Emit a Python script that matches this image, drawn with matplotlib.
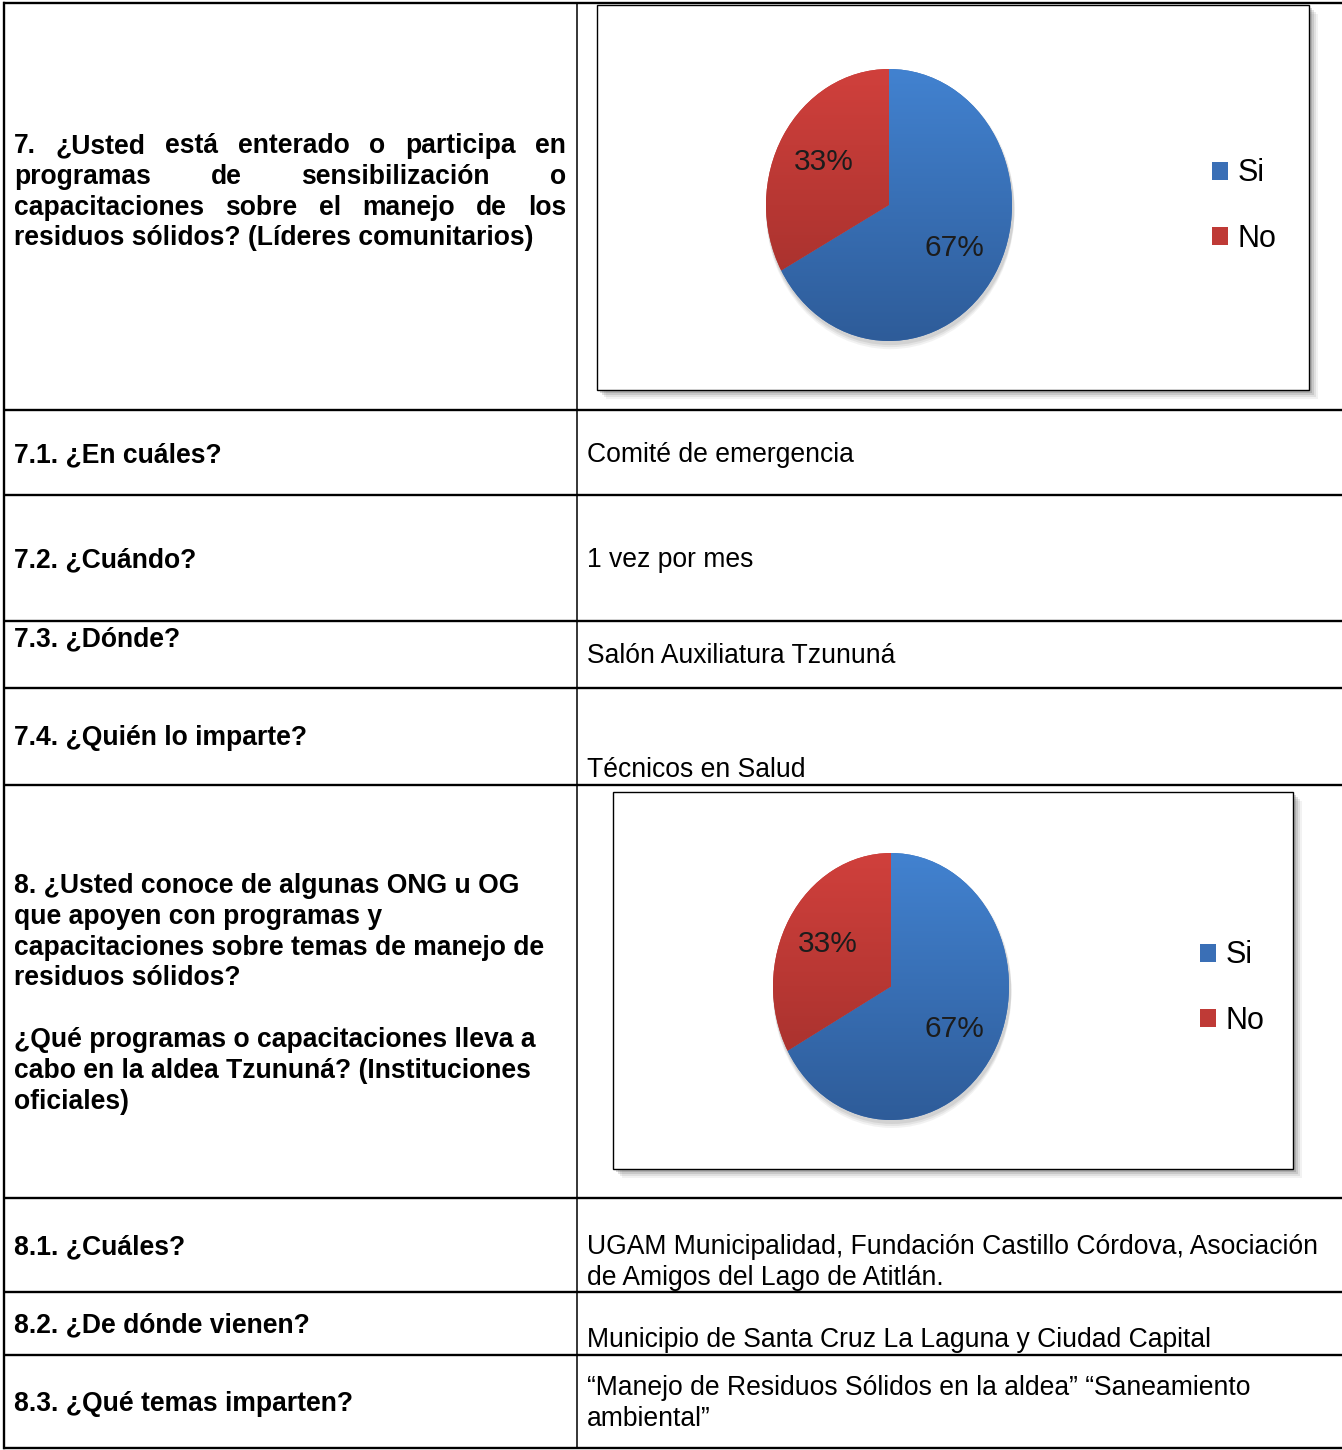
import matplotlib.pyplot as plt
import numpy as np
from matplotlib.colors import to_rgb
from matplotlib.patches import Rectangle, Ellipse

W, H = 1342, 1450

# pie data
pie_labels = ["Si", "No"]
pie7_values = [67, 33]
pie8_values = [67, 33]

# table text
q7_lines = [
    "7. ¿Usted está enterado o participa en",
    "programas de sensibilización o",
    "capacitaciones sobre el manejo de los",
    "residuos sólidos? (Líderes comunitarios)",
]
q8_lines = [
    "8. ¿Usted conoce de algunas ONG u OG",
    "que apoyen con programas y",
    "capacitaciones sobre temas de manejo de",
    "residuos sólidos?",
    "",
    "¿Qué programas o capacitaciones lleva a",
    "cabo en la aldea Tzununá? (Instituciones",
    "oficiales)",
]
sub_questions = [
    "7.1. ¿En cuáles?",
    "7.2. ¿Cuándo?",
    "7.3. ¿Dónde?",
    "7.4. ¿Quién lo imparte?",
    "8.1. ¿Cuáles?",
    "8.2. ¿De dónde vienen?",
    "8.3. ¿Qué temas imparten?",
]
sub_answers = [
    ["Comité de emergencia"],
    ["1 vez por mes"],
    ["Salón Auxiliatura Tzununá"],
    ["Técnicos en Salud"],
    ["UGAM Municipalidad, Fundación Castillo Córdova, Asociación",
     "de Amigos del Lago de Atitlán."],
    ["Municipio de Santa Cruz La Laguna y Ciudad Capital"],
    ["“Manejo de Residuos Sólidos en la aldea” “Saneamiento",
     "ambiental”"],
]

# layout (pixels)
row_edges = [3, 410, 495, 621, 688, 785, 1198, 1292, 1355, 1448]
col_x = [4, 577]
left_x, right_x = 14, 587
pitch = 30.8
sub_q_y = [455, 560, 639, 738, 1247, 1325, 1404]
sub_a_y = [455, 560, 656, 770, 1247, 1340, 1388]

BODY = ["Liberation Sans", "DejaVu Sans"]
NARROW = ["Liberation Sans Narrow", "Liberation Sans", "DejaVu Sans"]
FS = 19.1

blue_grad = ("#4282d0", "#2e5c99")
red_grad = ("#d0403c", "#9e2e2a")
blue_mid, red_mid = "#3a6fb6", "#bf3a36"

fig = plt.figure(figsize=(W / 100, H / 100), dpi=100)
ax = fig.add_axes([0, 0, 1, 1])
ax.set_xlim(0, W)
ax.set_ylim(H, 0)
ax.axis("off")
renderer = fig.canvas.get_renderer()


def frac(x0, y0, x1, y1):
    return [x0 / W, 1 - y1 / H, (x1 - x0) / W, (y1 - y0) / H]


def draw_line(x, y, text, width=None, **kw):
    if width is None or len(text.split()) < 2:
        ax.text(x, y, text, ha="left", va="center", **kw)
        return
    words = text.split()
    arts = [ax.text(0, y, w, ha="left", va="center", **kw) for w in words]
    widths = [a.get_window_extent(renderer).width for a in arts]
    gap = (width - sum(widths)) / (len(words) - 1)
    pos = x
    for a, w in zip(arts, widths):
        a.set_x(pos)
        pos += w + gap


def draw_pie(box, pie_box, legend_xy, values):
    x0, y0, x1, y1 = box
    # soft shadow behind the chart frame
    for k, a in zip([9, 7, 5, 3], [0.08, 0.12, 0.18, 0.25]):
        ax.add_patch(Rectangle((x0 + k, y0 + k), x1 - x0, y1 - y0,
                               facecolor="#606060", edgecolor="none",
                               alpha=a, zorder=1))
    ax.add_patch(Rectangle((x0, y0), x1 - x0, y1 - y0, facecolor="white",
                           edgecolor="black", lw=1.0, zorder=2))

    pax = fig.add_axes(frac(*pie_box))
    for k, a in zip([0.05, 0.035, 0.02], [0.07, 0.09, 0.11]):
        pax.add_patch(Ellipse((0.01, -k), 2.02, 2.02, facecolor="#505050",
                              edgecolor="none", alpha=a, zorder=0,
                              clip_on=False))
    wedges, _, autotexts = pax.pie(
        values, colors=[blue_mid, red_mid], startangle=90,
        counterclock=False, autopct="%.0f%%", pctdistance=0.62,
        wedgeprops=dict(linewidth=0, zorder=1),
        textprops=dict(fontsize=21.5, family=NARROW, color="#1c1c1c"),
    )
    for wedge, (top, bot) in zip(wedges, [blue_grad, red_grad]):
        grad = np.linspace(to_rgb(top), to_rgb(bot), 256)[:, None, :]
        im = pax.imshow(grad, extent=(-1, 1, -1, 1), aspect="auto",
                        zorder=2, interpolation="bilinear")
        im.set_clip_path(wedge)
    for t in autotexts:
        t.set_zorder(5)
    pax.set_aspect("auto")
    pax.set_xlim(-1, 1)
    pax.set_ylim(-1, 1)
    pax.axis("off")

    lx, ly = legend_xy
    fig.legend(wedges, pie_labels, loc="center left",
               bbox_to_anchor=(lx / W, 1 - ly / H), frameon=False,
               borderpad=0, borderaxespad=0, handlelength=0.52,
               handleheight=0.52, handletextpad=0.33, labelspacing=1.15,
               prop=dict(family=NARROW, size=22))


# table rules
for y in row_edges:
    ax.plot([3, W], [y, y], color="black", lw=1.7, solid_capstyle="butt")
ax.plot([col_x[0], col_x[0]], [row_edges[0], row_edges[-1]],
        color="black", lw=1.7)
ax.plot([col_x[1], col_x[1]], [row_edges[0], row_edges[-1]],
        color="black", lw=1.1)

bold = dict(fontsize=FS, family=BODY, fontweight="bold", color="black")
regular = dict(fontsize=FS, family=BODY, color="black")

# question 7 (justified paragraph)
for i, line in enumerate(q7_lines):
    width = 566 - left_x if i < len(q7_lines) - 1 else None
    draw_line(left_x, 146 + i * pitch, line, width, **bold)

# question 8
for i, line in enumerate(q8_lines):
    if line:
        draw_line(left_x, 886 + i * pitch, line, **bold)

for q, y in zip(sub_questions, sub_q_y):
    draw_line(left_x, y, q, **bold)
for lines, y in zip(sub_answers, sub_a_y):
    for j, line in enumerate(lines):
        draw_line(right_x, y + j * pitch, line, **regular)

draw_pie((597, 5, 1309, 390), (766, 69, 1012, 341), (1212, 206), pie7_values)
draw_pie((613, 792, 1293, 1169), (773, 853, 1009, 1120), (1200, 988),
         pie8_values)

fig.savefig("out.png", dpi=100, facecolor="white")
